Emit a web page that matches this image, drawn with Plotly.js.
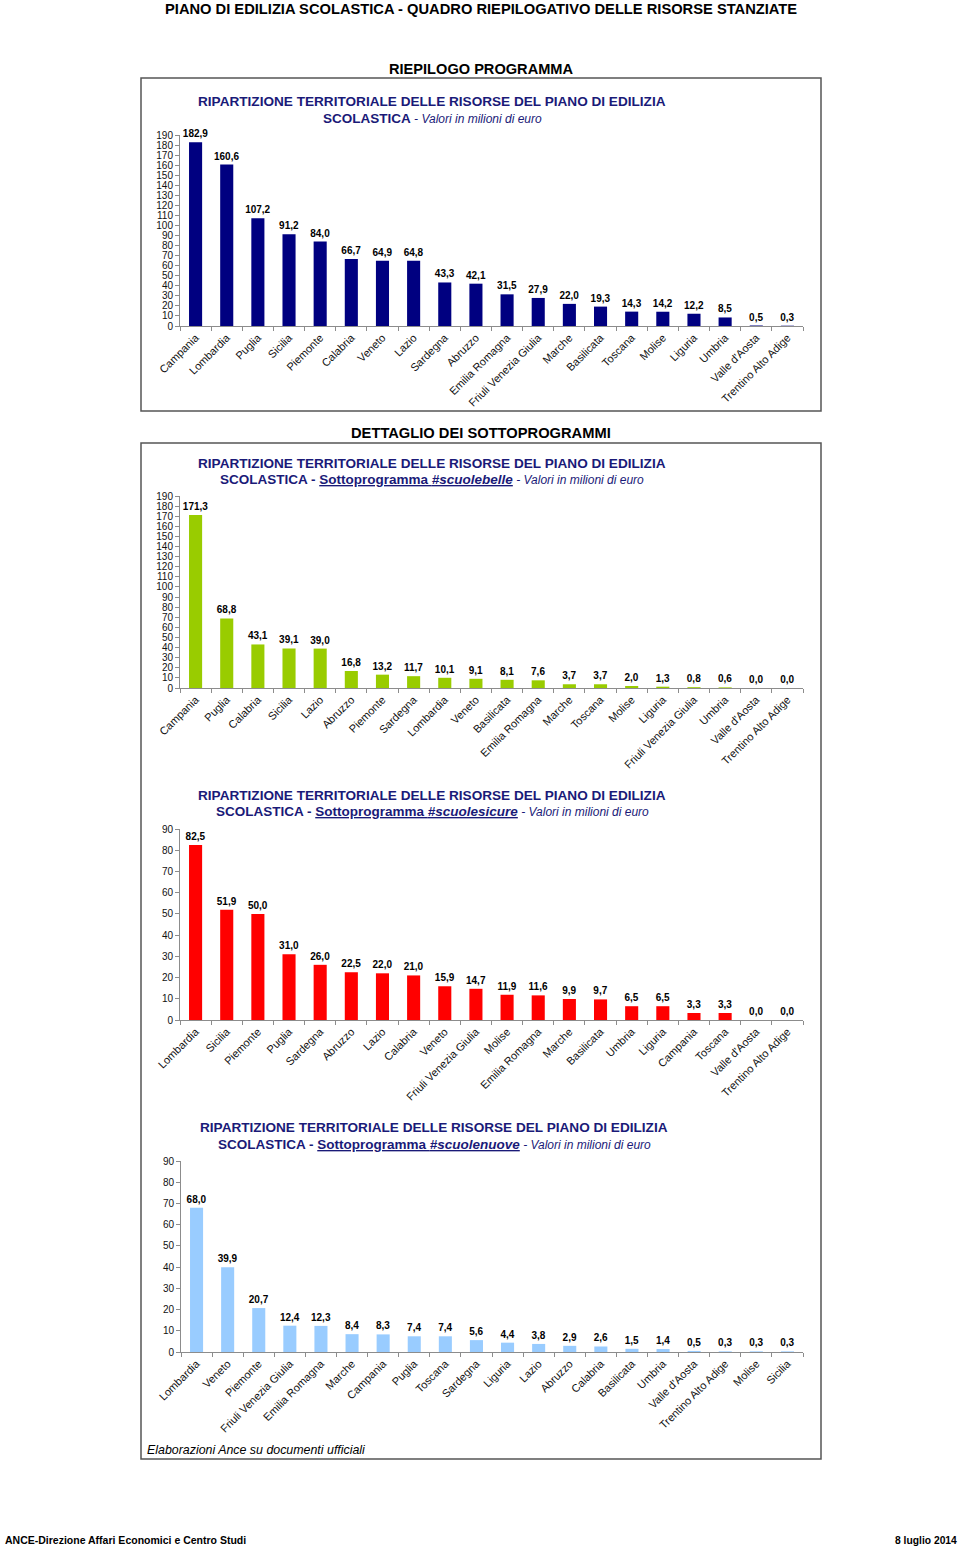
<!DOCTYPE html>
<html>
<head>
<meta charset="utf-8">
<script src="https://cdn.plot.ly/plotly-3.0.1.min.js"></script>
<style>
html,body{margin:0;padding:0;background:#fff;}
#chart{width:960px;height:1550px;}
</style>
</head>
<body>
<div id="chart"></div>
<script>
// ---------------- DATA ----------------
const cat1 = ["Campania","Lombardia","Puglia","Sicilia","Piemonte","Calabria","Veneto","Lazio","Sardegna","Abruzzo","Emilia Romagna","Friuli Venezia Giulia","Marche","Basilicata","Toscana","Molise","Liguria","Umbria","Valle d'Aosta","Trentino Alto Adige"];
const val1 = [182.9,160.6,107.2,91.2,84.0,66.7,64.9,64.8,43.3,42.1,31.5,27.9,22.0,19.3,14.3,14.2,12.2,8.5,0.5,0.3];

const cat2 = ["Campania","Puglia","Calabria","Sicilia","Lazio","Abruzzo","Piemonte","Sardegna","Lombardia","Veneto","Basilicata","Emilia Romagna","Marche","Toscana","Molise","Liguria","Friuli Venezia Giulia","Umbria","Valle d'Aosta","Trentino Alto Adige"];
const val2 = [171.3,68.8,43.1,39.1,39.0,16.8,13.2,11.7,10.1,9.1,8.1,7.6,3.7,3.7,2.0,1.3,0.8,0.6,0.0,0.0];

const cat3 = ["Lombardia","Sicilia","Piemonte","Puglia","Sardegna","Abruzzo","Lazio","Calabria","Veneto","Friuli Venezia Giulia","Molise","Emilia Romagna","Marche","Basilicata","Umbria","Liguria","Campania","Toscana","Valle d'Aosta","Trentino Alto Adige"];
const val3 = [82.5,51.9,50.0,31.0,26.0,22.5,22.0,21.0,15.9,14.7,11.9,11.6,9.9,9.7,6.5,6.5,3.3,3.3,0.0,0.0];

const cat4 = ["Lombardia","Veneto","Piemonte","Friuli Venezia Giulia","Emilia Romagna","Marche","Campania","Puglia","Toscana","Sardegna","Liguria","Lazio","Abruzzo","Calabria","Basilicata","Umbria","Valle d'Aosta","Trentino Alto Adige","Molise","Sicilia"];
const val4 = [68.0,39.9,20.7,12.4,12.3,8.4,8.3,7.4,7.4,5.6,4.4,3.8,2.9,2.6,1.5,1.4,0.5,0.3,0.3,0.3];

const yMax1 = 190, yMax2 = 190, yMax3 = 90, yMax4 = 90;

const pageTitle = "PIANO DI EDILIZIA SCOLASTICA - QUADRO RIEPILOGATIVO DELLE RISORSE STANZIATE";
const section1 = "RIEPILOGO PROGRAMMA";
const section2 = "DETTAGLIO DEI SOTTOPROGRAMMI";
const titleLine1 = "RIPARTIZIONE TERRITORIALE DELLE RISORSE DEL PIANO DI EDILIZIA";
const subtitle1 = "<b>SCOLASTICA</b><span style='font-size:12px'><i> - Valori in milioni di euro</i></span>";
const subtitle2 = "<b>SCOLASTICA - <u>Sottoprogramma <i>#scuolebelle</i></u></b><span style='font-size:12px'><i> - Valori in milioni di euro</i></span>";
const subtitle3 = "<b>SCOLASTICA - <u>Sottoprogramma <i>#scuolesicure</i></u></b><span style='font-size:12px'><i> - Valori in milioni di euro</i></span>";
const subtitle4 = "<b>SCOLASTICA - <u>Sottoprogramma <i>#scuolenuove</i></u></b><span style='font-size:12px'><i> - Valori in milioni di euro</i></span>";
const sourceNote = "Elaborazioni Ance su documenti ufficiali";
const footerLeft = "ANCE-Direzione Affari Economici e Centro Studi";
const footerRight = "8 luglio 2014";

// ---------------- LAYOUT HELPERS ----------------
const W = 960, H = 1550;
const px = x => x / W;
const py = y => 1 - y / H;
const FONT = "'Liberation Sans', Arial, Helvetica, sans-serif";
const NAVY = "#1a1a78";

function barTrace(cats, vals, color, n) {
  return {
    type: "bar",
    x: cats, y: vals,
    xaxis: "x" + (n === 1 ? "" : n),
    yaxis: "y" + (n === 1 ? "" : n),
    marker: {color: color, line: {width: 0}},
    texttemplate: "%{y:.1f}",
    textposition: "outside",
    constraintext: "none",
    cliponaxis: false,
    textfont: {family: FONT, size: 10, color: "#000", weight: "bold"},
    hoverinfo: "x+y",
    showlegend: false
  };
}

function xAxis(n, x0, x1) {
  return {
    domain: [px(x0), px(x1)],
    anchor: "y" + (n === 1 ? "" : n),
    type: "category",
    showline: true, linecolor: "#8c8c8c", linewidth: 1,
    ticks: "outside", tickson: "boundaries", ticklen: 4, tickcolor: "#8c8c8c",
    tickangle: -45,
    tickfont: {family: FONT, size: 11, color: "#111"},
    showgrid: false, zeroline: false, automargin: false, fixedrange: true
  };
}
function yAxis(n, yTop, yBot, max) {
  return {
    domain: [py(yBot), py(yTop)],
    anchor: "x" + (n === 1 ? "" : n),
    range: [0, max], dtick: 10, tick0: 0,
    showline: true, linecolor: "#8c8c8c", linewidth: 1,
    ticks: "outside", ticklen: 4, tickcolor: "#8c8c8c",
    tickfont: {family: FONT, size: 10, color: "#111"},
    showgrid: false, zeroline: false, automargin: false, fixedrange: true
  };
}

const data = [
  barTrace(cat1, val1, "#000080", 1),
  barTrace(cat2, val2, "#99cc00", 2),
  barTrace(cat3, val3, "#ff0000", 3),
  barTrace(cat4, val4, "#99ccff", 4)
];

function ann(text, x, y, size, opts) {
  return Object.assign({
    text: text, xref: "paper", yref: "paper", x: px(x), y: py(y),
    xanchor: "center", yanchor: "middle", showarrow: false,
    font: {family: FONT, size: size, color: "#000"}
  }, opts || {});
}
const navyFont = s => ({font: {family: FONT, size: s, color: NAVY}});

const annotations = [
  ann("<b>" + pageTitle + "</b>", 481, 9, 14.7),
  ann("<b>" + section1 + "</b>", 481, 69, 14.6),
  ann("<b>" + section2 + "</b>", 481, 433, 14.7),
  ann("<b>" + titleLine1 + "</b>", 432, 101, 13.6, navyFont(13.6)),
  ann(subtitle1, 432, 118, 13.5, navyFont(13.5)),
  ann("<b>" + titleLine1 + "</b>", 432, 463, 13.6, navyFont(13.6)),
  ann(subtitle2, 432, 479, 13.5, navyFont(13.5)),
  ann("<b>" + titleLine1 + "</b>", 432, 795, 13.6, navyFont(13.6)),
  ann(subtitle3, 432, 811, 13.5, navyFont(13.5)),
  ann("<b>" + titleLine1 + "</b>", 434, 1127, 13.6, navyFont(13.6)),
  ann(subtitle4, 434, 1144, 13.5, navyFont(13.5)),
  ann("<i>" + sourceNote + "</i>", 145, 1450, 12.4, {xanchor: "left"}),
  ann("<b>" + footerLeft + "</b>", 3, 1540, 10.5, {xanchor: "left"}),
  ann("<b>" + footerRight + "</b>", 959, 1540, 10.3, {xanchor: "right"})
];

const shapes = [
  {type: "rect", xref: "paper", yref: "paper", x0: px(141), x1: px(821), y0: py(411), y1: py(78),
   line: {color: "#555", width: 1.5}},
  {type: "rect", xref: "paper", yref: "paper", x0: px(141), x1: px(821), y0: py(1459), y1: py(443),
   line: {color: "#555", width: 1.5}}
];

const layout = {
  width: W, height: H,
  margin: {l: 0, r: 0, t: 0, b: 0, pad: 0},
  paper_bgcolor: "#fff", plot_bgcolor: "rgba(0,0,0,0)",
  separators: ",.",
  bargap: 0.58,
  font: {family: FONT, color: "#000"},
  showlegend: false,
  xaxis: xAxis(1, 180, 803), yaxis: yAxis(1, 135, 326, yMax1),
  xaxis2: xAxis(2, 180, 803), yaxis2: yAxis(2, 496, 688, yMax2),
  xaxis3: xAxis(3, 180, 803), yaxis3: yAxis(3, 829, 1020, yMax3),
  xaxis4: xAxis(4, 181, 803), yaxis4: yAxis(4, 1161, 1352, yMax4),
  annotations: annotations,
  shapes: shapes
};

Plotly.newPlot("chart", data, layout, {displayModeBar: false, staticPlot: true});
</script>
</body>
</html>
